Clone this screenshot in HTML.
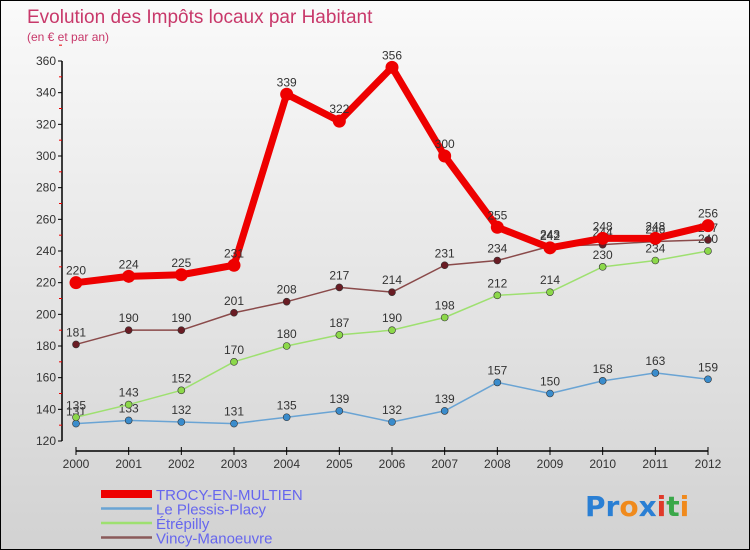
<!DOCTYPE html>
<html><head><meta charset="utf-8"><style>
html,body{margin:0;padding:0}
body{width:750px;height:550px;overflow:hidden;font-family:"Liberation Sans",sans-serif}
#wrap{position:relative;width:748px;height:548px;border:1px solid #000;background:linear-gradient(#fafafa,#d2d2d2)}
</style></head><body>
<div id="wrap">
<svg id="chart" width="748" height="548" style="position:absolute;left:0;top:0">
<text x="26" y="22" font-size="19" fill="#c8386a">Evolution des Impôts locaux par Habitant</text>
<text x="26" y="40" font-size="12" fill="#c8386a">(en € et par an)</text>
<g id="axes"></g><g id="series"></g>
<g id="legend"></g>
<text x="584" y="515" font-size="28" font-weight="bold" font-family="DejaVu Sans, sans-serif"><tspan fill="#2a7fd4">Pr</tspan><tspan fill="#f08a1c">o</tspan><tspan fill="#2a7fd4">x</tspan><tspan fill="#e03a2a">i</tspan><tspan fill="#3aa84a">t</tspan><tspan fill="#f08a1c">i</tspan></text>
</svg>
</div>
<script>
const years=["2000","2001","2002","2003","2004","2005","2006","2007","2008","2009","2010","2011","2012"];
const trocy=[220,224,225,231,339,322,356,300,255,242,248,248,256];
const plessis=[131,133,132,131,135,139,132,139,157,150,158,163,159];
const etrepilly=[135,143,152,170,180,187,190,198,212,214,230,234,240];
const vincy=[181,190,190,201,208,217,214,231,234,243,244,246,247];
const yTicks=[120,140,160,180,200,220,240,260,280,300,320,340,360];
const NS="http://www.w3.org/2000/svg";
function xs(i){return 75+i*(707-75)/(years.length-1);}
function ys(v){return 440-(v-120)*(380/240);}
function mk(t,a,p){const e=document.createElementNS(NS,t);for(const k in a)e.setAttribute(k,a[k]);p.appendChild(e);return e;}
const ax=document.getElementById('axes');
const ya=mk('line',{x1:61,y1:ys(360),x2:61,y2:ys(120),stroke:'#000','stroke-width':1.5},ax);


yTicks.forEach(v=>{
 mk('line',{x1:57,x2:61,y1:ys(v),y2:ys(v),stroke:'#000'},ax);
 mk('line',{x1:58,x2:61,y1:ys(v+10),y2:ys(v+10),stroke:'#e00'},ax);
 const t=mk('text',{x:55,y:ys(v)+4,'font-size':12,fill:'#333','text-anchor':'end'},ax);t.textContent=v;
 
 
});
const xa=mk('line',{x1:75,y1:450,x2:707,y2:450,stroke:'#000','stroke-width':1.5},ax);


years.forEach((y,i)=>{
 mk('line',{x1:xs(i),x2:xs(i),y1:446,y2:454,stroke:'#000'},ax);
 const t=mk('text',{x:xs(i),y:467,'font-size':12,fill:'#333','text-anchor':'middle'},ax);t.textContent=y;
 
 
});
const sg=document.getElementById('series');
function draw(data,color,dot,w,r,name,labelCol){
 const g=mk('g',{},sg);
 
 
 mk('polyline',{points:data.map((v,i)=>xs(i)+','+ys(v)).join(' '),fill:'none',stroke:color,'stroke-width':w,'stroke-linejoin':'round'},g);
 data.forEach((v,i)=>{
  const c=mk('circle',{cx:xs(i),cy:ys(v),r:r,fill:dot,stroke:'#333','stroke-width':r>4?0:0.6},g);
  
  
  const t=mk('text',{x:xs(i),y:ys(v)-8,'font-size':12,fill:'#333','text-anchor':'middle'},g);t.textContent=v;
  
  
 });
}
draw(plessis,'#6aa4d4','#3a8ccc',1.5,3.5,'le-plessis-placy');
draw(etrepilly,'#9ee070','#8cd84a',1.5,3.5,'etrepilly');
draw(vincy,'#8a4a4a','#6a1c24',1.5,3.5,'vincy-manoeuvre');
draw(trocy,'#ee0000','#ee0000',7,6.5,'trocy-en-multien');
const lg=document.getElementById('legend');
[["TROCY-EN-MULTIEN","#ee0000",8],["Le Plessis-Placy","#6aa4d4",2.5],["Étrépilly","#9ee070",2.5],["Vincy-Manoeuvre","#8a5a5a",2.5]].forEach((l,i)=>{
 const y=493+i*14.5;
 mk('line',{x1:100,x2:151,y1:y,y2:y,stroke:l[1],'stroke-width':l[2]},lg);
 const t=mk('text',{x:155,y:y+6,'font-size':15,fill:'#6666ee'},lg);t.textContent=l[0];
 
 
});
</script>
</body></html>
